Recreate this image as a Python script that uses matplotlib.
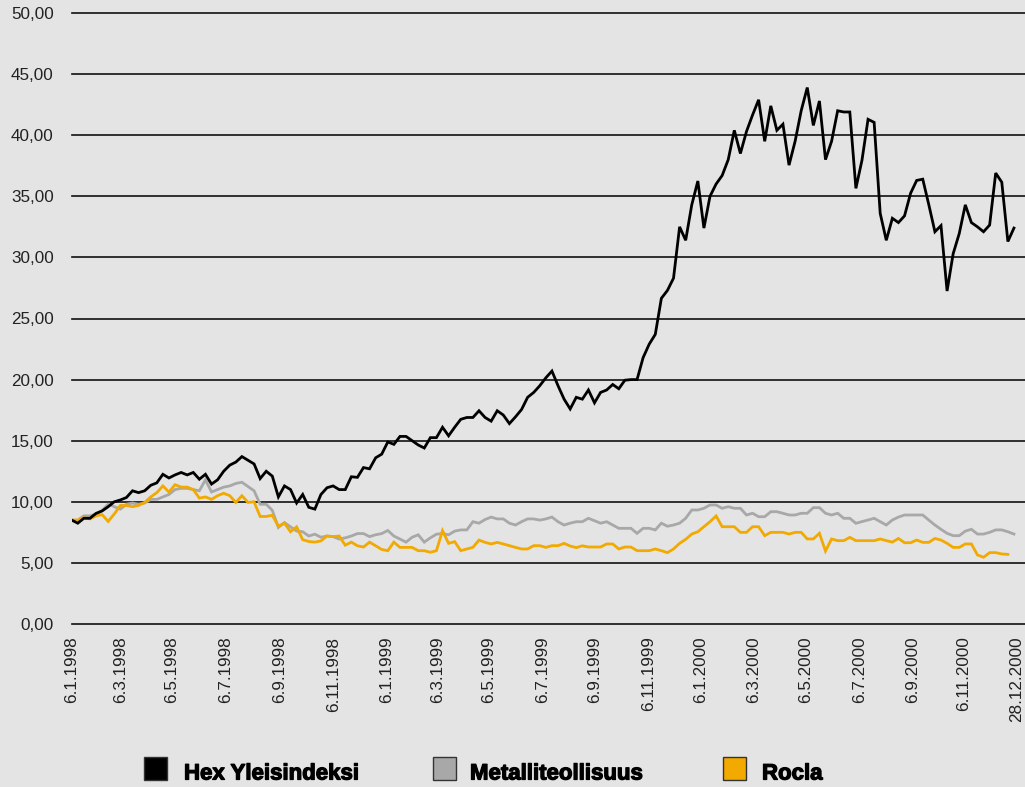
import numpy as np
import matplotlib
matplotlib.use('Agg')
import matplotlib.pyplot as plt
from matplotlib.patches import Rectangle
import matplotlib.patheffects as pe

# ---------------- data (weekly values) ----------------
series_names = ['Hex Yleisindeksi', 'Metalliteollisuus', 'Rocla']

hex_yleis = [
    8.5, 8.25, 8.65, 8.65, 9.05, 9.25, 9.6, 10.0, 10.15, 10.35, 10.9, 10.75, 10.9, 11.35,
    11.55, 12.25, 11.95, 12.2, 12.4, 12.2, 12.4, 11.85, 12.25, 11.45, 11.8, 12.5, 13.0, 13.25,
    13.7, 13.4, 13.1, 11.9, 12.5, 12.1, 10.4, 11.3, 11.0, 9.9, 10.6, 9.55, 9.4, 10.6, 11.15,
    11.3, 11.0, 11.0, 12.05, 12.0, 12.8, 12.7, 13.6, 13.9, 14.9, 14.7, 15.35,
    15.35, 15.0, 14.65, 14.4, 15.25, 15.25, 16.1, 15.4, 16.1, 16.75, 16.9, 16.9, 17.45, 16.9,
    16.6, 17.45, 17.1, 16.4, 16.95, 17.55, 18.55, 18.95, 19.5, 20.15, 20.7, 19.5, 18.4,
    17.6, 18.55, 18.4, 19.15, 18.1, 18.95, 19.15, 19.6, 19.25, 19.95, 20.0, 20.0, 21.8, 22.9,
    23.7, 26.65, 27.3, 28.3, 32.5, 31.4, 34.3, 36.25, 32.4, 35.0, 36.0, 36.7, 38.0,
    40.4, 38.5, 40.3, 41.65, 42.9, 39.5, 42.4, 40.4, 40.9, 37.55, 39.5, 42.0, 43.9, 40.8,
    42.8, 38.0, 39.5, 42.0, 41.9, 41.9, 35.65, 37.95, 41.3, 41.05, 33.6, 31.4, 33.2,
    32.85, 33.4, 35.25, 36.3, 36.4, 34.3, 32.1, 32.6, 27.25, 30.3, 31.95, 34.3, 32.85, 32.5,
    32.1, 32.65, 36.9, 36.15, 31.3, 32.4,
]

metalli = [
    8.5, 8.5, 8.85, 8.85, 9.0, 9.3, 9.8, 9.6, 9.4, 9.8, 9.9, 9.8, 9.9, 10.2, 10.2, 10.4, 10.6,
    11.0, 11.1, 11.1, 11.0, 10.9, 11.8, 10.8, 11.0, 11.2, 11.3, 11.5,
    11.6, 11.25, 10.9, 9.8, 9.8, 9.3, 7.9, 8.3, 7.95, 7.6, 7.55, 7.2, 7.35, 7.1, 7.2, 7.15,
    6.95, 7.05, 7.2, 7.4, 7.4, 7.15, 7.3, 7.4, 7.65, 7.2, 6.95,
    6.7, 7.1, 7.3, 6.7, 7.05, 7.35, 7.4, 7.3, 7.6, 7.7, 7.7, 8.37, 8.25, 8.55, 8.75, 8.6, 8.6,
    8.25, 8.1, 8.37, 8.6, 8.6, 8.5, 8.6, 8.75, 8.37, 8.1,
    8.25, 8.37, 8.37, 8.65, 8.45, 8.25, 8.37, 8.1, 7.83, 7.83, 7.83, 7.42, 7.83, 7.83, 7.7,
    8.25, 8.0, 8.1, 8.25, 8.65, 9.33, 9.33, 9.47, 9.74, 9.74, 9.47, 9.6,
    9.47, 9.47, 8.92, 9.06, 8.78, 8.78, 9.19, 9.19, 9.06, 8.92, 8.92, 9.06, 9.06, 9.52, 9.52,
    9.06, 8.92, 9.06, 8.65, 8.65, 8.24, 8.38, 8.51, 8.65, 8.38, 8.1, 8.51,
    8.75, 8.92, 8.92, 8.92, 8.92, 8.5, 8.1, 7.75, 7.42, 7.23, 7.23, 7.6, 7.75, 7.36, 7.36,
    7.5, 7.7, 7.7, 7.55, 7.36,
]

rocla = [
    8.5, 8.5, 8.7, 8.6, 8.85, 8.95, 8.4, 9.0, 9.7, 9.7, 9.6, 9.7, 9.95, 10.4, 10.75, 11.3,
    10.8, 11.4, 11.2, 11.2, 11.0, 10.3, 10.4, 10.2, 10.5, 10.7, 10.5, 9.95,
    10.5, 9.95, 10.0, 8.8, 8.8, 8.9, 8.0, 8.25, 7.55, 7.95, 6.9, 6.75, 6.7, 6.8, 7.2, 7.15,
    7.2, 6.45, 6.7, 6.4, 6.3, 6.7, 6.4, 6.1, 6.0, 6.7, 6.27,
    6.27, 6.27, 6.0, 6.0, 5.87, 6.0, 7.64, 6.6, 6.74, 6.0, 6.14, 6.27, 6.87, 6.68, 6.55, 6.68,
    6.55, 6.41, 6.27, 6.14, 6.14, 6.41, 6.41, 6.27, 6.41, 6.41, 6.6,
    6.38, 6.25, 6.4, 6.3, 6.3, 6.3, 6.55, 6.55, 6.14, 6.3, 6.3, 6.0, 6.0, 6.0, 6.14, 6.0, 5.84,
    6.14, 6.6, 6.93, 7.36, 7.55, 7.96, 8.37, 8.84, 7.96, 7.96,
    7.96, 7.5, 7.5, 7.96, 7.96, 7.23, 7.5, 7.5, 7.5, 7.36, 7.5, 7.5, 6.96, 6.96, 7.42, 5.97,
    6.96, 6.82, 6.82, 7.09, 6.82, 6.82, 6.82, 6.82, 6.96, 6.82, 6.7,
    7.0, 6.65, 6.65, 6.87, 6.68, 6.68, 7.0, 6.87, 6.6, 6.27, 6.27, 6.55, 6.55, 5.65, 5.46,
    5.84, 5.84, 5.73, 5.7,
]

x_labels = ['6.1.1998', '6.3.1998', '6.5.1998', '6.7.1998', '6.9.1998', '6.11.1998',
            '6.1.1999', '6.3.1999', '6.5.1999', '6.7.1999', '6.9.1999', '6.11.1999',
            '6.1.2000', '6.3.2000', '6.5.2000', '6.7.2000', '6.9.2000', '6.11.2000',
            '28.12.2000']
y_ticks = [0, 5, 10, 15, 20, 25, 30, 35, 40, 45, 50]

# ---------------- layout / style ----------------
W, H = 1025, 787
BG = '#e4e4e4'
colors = ['#000000', '#a8a8a8', '#f2a900']
# label positions on the week axis (layout)
tick_pos = [0, 8.06, 16.45, 25.34, 34.15, 43.03, 51.82, 60.21, 68.64, 77.48, 85.97,
            94.85, 103.52, 112.13, 120.75, 129.57, 138.29, 146.68, 155.45]

FONT = 'Liberation Sans'

fig = plt.figure(figsize=(W / 100, H / 100), dpi=100, facecolor=BG)
left_px, right_px, top_px, bot_px = 71.7, 1025, 13, 624
ax = fig.add_axes([left_px / W, (H - bot_px) / H, (right_px - left_px) / W,
                   (bot_px - top_px) / H])
ax.set_facecolor(BG)

step_px = 6.079
ax.set_xlim(0, (right_px - left_px) / step_px)
ax.set_ylim(0, 50)

for vals, col in zip([metalli, rocla, hex_yleis], [colors[1], colors[2], colors[0]]):
    ax.plot(np.arange(len(vals)), vals, color=col, lw=2.0, solid_joinstyle='miter',
            zorder=3)

ax.set_yticks(y_ticks)
ax.set_yticklabels([f"{v:.2f}".replace('.', ',') for v in y_ticks],
                   fontsize=12.3, family=FONT, color='#222222')
ax.set_xticks(tick_pos)
ax.set_xticklabels(x_labels, rotation=90, fontsize=12.3, family=FONT, color='#222222',
                   va='top', ha='center')
ax.tick_params(axis='y', length=0, pad=13)
ax.tick_params(axis='x', length=0, pad=9)

ax.grid(axis='y', color='#111111', lw=1.2, zorder=1)
ax.grid(axis='x', visible=False)
for gl in ax.get_ygridlines():
    gl.set_clip_on(False)
ax.set_axisbelow(True)
for s in ax.spines.values():
    s.set_visible(False)

# ---------------- legend (manual, bottom) ----------------
sq_left_px = [143.5, 432.5, 722.5]
text_left_px = [184, 470, 762]
sq_size = 23
sq_top = 757
for name, col, sx, tx in zip(series_names, colors, sq_left_px, text_left_px):
    fig.add_artist(Rectangle((sx / W, (H - sq_top - sq_size) / H), sq_size / W,
                             sq_size / H, transform=fig.transFigure,
                             facecolor=col, edgecolor='#333333', lw=1.0))
    fig.text(tx / W, (H - 779.5) / H, name, fontsize=16, fontweight='bold',
             family=FONT, color='#000000', va='baseline', ha='left',
             path_effects=[pe.withStroke(linewidth=0.9, foreground='#000000')])

fig.savefig('out.png', dpi=100, facecolor=BG)
